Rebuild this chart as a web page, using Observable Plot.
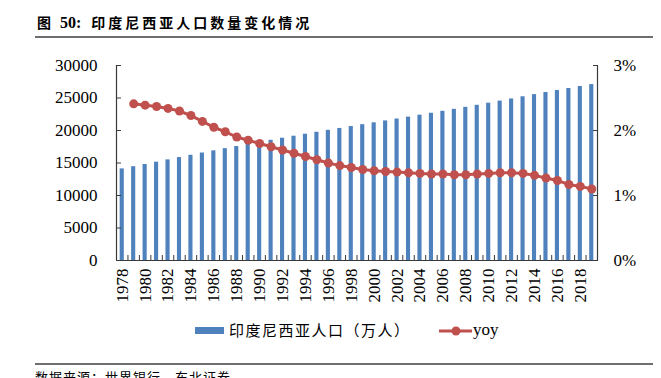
<!DOCTYPE html>
<html>
<head>
<meta charset="utf-8">
<script src="https://cdn.jsdelivr.net/npm/d3@7"></script>
<script src="https://cdn.jsdelivr.net/npm/@observablehq/plot@0.6"></script>
<style>
  html, body { margin: 0; padding: 0; background: #fff; }
  #wrap { position: relative; width: 661px; height: 378px; overflow: hidden; background: #fff; }
  #title { position: absolute; left: 37px; top: 13px; font-family: "Noto Sans CJK SC", sans-serif; font-weight: 700; font-size: 14px; line-height: 18px; color: #000; white-space: nowrap; }
  #title .num { font-family: "Liberation Serif", serif; font-size: 16px; font-weight: 700; margin-left: 9px; margin-right: 10px; }
  #title .cjk { letter-spacing: 3px; }
  .hr { position: absolute; left: 35px; width: 618px; height: 2px; background: #6e6e6e; }
  #chart { position: absolute; left: 0; top: 40px; }
  #legend { position: absolute; left: 0; top: 320px; width: 661px; height: 22px; }
  #legend .sw { position: absolute; left: 195px; top: 7px; width: 29px; height: 7px; background: #4F81BD; }
  #legend .t1 { position: absolute; left: 229px; top: 1px; font-family: "Noto Sans CJK SC", sans-serif; font-size: 15px; line-height: 18px; letter-spacing: 1.5px; white-space: nowrap; color: #000; }
  #legend svg { position: absolute; left: 437px; top: 0px; }
  #legend .t2 { position: absolute; left: 473px; top: 0px; font-family: "Liberation Serif", serif; font-size: 17px; line-height: 20px; color: #000; }
  #caption { position: absolute; left: 35px; top: 370px; font-family: "Noto Sans CJK SC", sans-serif; font-size: 13px; line-height: 14px; letter-spacing: 1px; color: #000; white-space: nowrap; }
</style>
</head>
<body>
<div id="wrap">
  <div id="title"><span>图</span><span class="num">50:</span><span class="cjk">印度尼西亚人口数量变化情况</span></div>
  <div class="hr" style="top:36px"></div>
  <div id="chart"></div>
  <div id="legend">
    <div class="sw"></div>
    <span class="t1">印度尼西亚人口（万人）</span>
    <svg width="36" height="22"><line x1="2" x2="35" y1="11" y2="11" stroke="#C0504D" stroke-width="3"></line><circle cx="19" cy="11" r="4.5" fill="#C0504D"></circle></svg>
    <span class="t2">yoy</span>
  </div>
  <div class="hr" style="top:363px"></div>
  <div id="caption">数据来源：世界银行，东北证券</div>
</div>
<script>
// ---- data ----
const years = [1978, 1979, 1980, 1981, 1982, 1983, 1984, 1985, 1986, 1987, 1988, 1989, 1990, 1991,
  1992, 1993, 1994, 1995, 1996, 1997, 1998, 1999, 2000, 2001, 2002, 2003, 2004, 2005,
  2006, 2007, 2008, 2009, 2010, 2011, 2012, 2013, 2014, 2015, 2016, 2017, 2018, 2019];
// population, 万人
const population = [14090, 14430, 14775, 15125, 15479, 15835, 16188, 16534, 16873, 17207, 17534, 17858,
  18179, 18497, 18811, 19122, 19428, 19729, 20025, 20317, 20607, 20896, 21184, 21474,
  21766, 22060, 22356, 22653, 22954, 23257, 23564, 23877, 24197, 24524, 24855, 25188,
  25518, 25842, 26160, 26466, 26768, 27063];
// yoy growth, % (from 1979)
const yoyYears = [1979, 1980, 1981, 1982, 1983, 1984, 1985, 1986, 1987, 1988, 1989, 1990, 1991,
  1992, 1993, 1994, 1995, 1996, 1997, 1998, 1999, 2000, 2001, 2002, 2003, 2004, 2005,
  2006, 2007, 2008, 2009, 2010, 2011, 2012, 2013, 2014, 2015, 2016, 2017, 2018, 2019];
const yoy = [2.41, 2.39, 2.37, 2.34, 2.30, 2.23, 2.14, 2.05, 1.98, 1.90, 1.85, 1.80, 1.75,
  1.70, 1.65, 1.60, 1.55, 1.50, 1.46, 1.43, 1.40, 1.38, 1.37, 1.36, 1.35, 1.34, 1.33,
  1.33, 1.32, 1.32, 1.33, 1.34, 1.35, 1.35, 1.34, 1.31, 1.27, 1.23, 1.17, 1.14, 1.10];
// tick labels
const xTickLabels = [1978, 1980, 1982, 1984, 1986, 1988, 1990, 1992, 1994, 1996, 1998, 2000,
  2002, 2004, 2006, 2008, 2010, 2012, 2014, 2016, 2018];
const leftTicks = [0, 5000, 10000, 15000, 20000, 25000, 30000];
const rightTickValues = [0, 1, 2, 3];
const rightTickLabels = ["0%", "1%", "2%", "3%"];

// ---- tables ----
const popData = years.map((y, i) => ({year: y, pop: population[i]}));
const yoyData = yoyYears.map((y, i) => ({year: y, g: yoy[i]}));
const k = 30000 / 3; // right axis: 3% <-> 30000
const rightTicks = rightTickValues.map(v => v * k);
const xBounds = years.slice(0, -1).map(y => y + 0.5);
const xMin = years[0] - 0.5, xMax = years[years.length - 1] + 0.5;
const axisColor = "#3a3a3a";

const chart = Plot.plot({
  width: 661,
  height: 270,
  marginTop: 25,
  marginBottom: 50,
  marginLeft: 116,
  marginRight: 64,
  x: {type: "linear", domain: [xMin, xMax], label: null},
  y: {domain: [0, 30000], label: null},
  style: {fontFamily: "'Liberation Serif', 'Times New Roman', serif", fontSize: "17px", color: "#000", background: "transparent"},
  marks: [
    Plot.rectY(popData, {x1: d => d.year - 0.18, x2: d => d.year + 0.18, y: "pop", fill: "#4F81BD"}),
    Plot.ruleX([xMin, xMax], {y1: 0, y2: 30000, stroke: axisColor, strokeWidth: 1.2}),
    Plot.ruleY([0], {stroke: axisColor, strokeWidth: 1.2}),
    Plot.axisY({anchor: "left", ticks: leftTicks, tickSize: 0, tickPadding: 19, tickFormat: d => String(d), label: null, fontSize: 17}),
    Plot.axisY({anchor: "left", ticks: leftTicks, tickSize: -5, tickFormat: () => "", label: null, stroke: axisColor}),
    Plot.axisY({anchor: "right", ticks: rightTicks, tickSize: 0, tickPadding: 16, tickFormat: (d, i) => rightTickLabels[i], label: null, fontSize: 17}),
    Plot.axisY({anchor: "right", ticks: rightTicks, tickSize: -5, tickFormat: () => "", label: null, stroke: axisColor}),
    Plot.axisX({ticks: xTickLabels, tickSize: 0, tickPadding: 8, tickRotate: -90, tickFormat: d => String(d), label: null, fontSize: 17}),
    Plot.axisX({ticks: xBounds, tickSize: -5, tickFormat: () => "", label: null, stroke: axisColor}),
    Plot.lineY(yoyData, {x: "year", y: d => d.g * k, stroke: "#C0504D", strokeWidth: 3}),
    Plot.dot(yoyData, {x: "year", y: d => d.g * k, r: 4.5, fill: "#C0504D"})
  ]
});
document.getElementById("chart").appendChild(chart);
</script>
</body>
</html>
